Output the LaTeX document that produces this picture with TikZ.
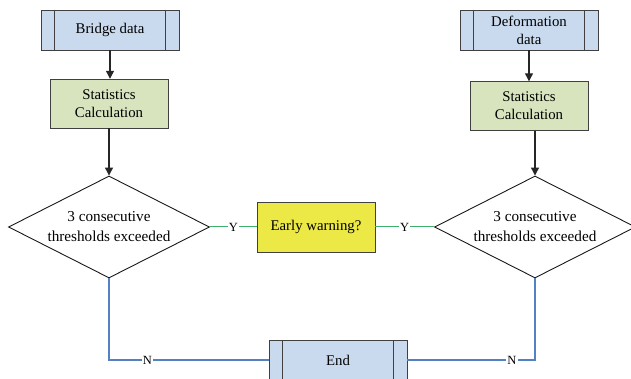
\documentclass[tikz,border=0pt]{standalone}
\usepackage{fontspec}
\setmainfont{Liberation Serif}
\usetikzlibrary{shapes.geometric}
\usetikzlibrary{arrows.meta}

\definecolor{datafill}{RGB}{201,217,238}
\definecolor{calcfill}{RGB}{216,228,190}
\definecolor{warnfill}{RGB}{236,232,70}
\definecolor{yesline}{RGB}{62,176,108}
\definecolor{noline}{RGB}{84,128,196}

\begin{document}
\begin{tikzpicture}[x=1pt, y=-1pt, font=\fontsize{14.8}{18}\selectfont,
    datablock/.style={draw=black!75, fill=datafill, minimum width=138pt, minimum height=40pt,
        inner sep=0pt, align=center,
        path picture={
            \draw [black!75] ([xshift=13.5pt]path picture bounding box.north west) -- ([xshift=13.5pt]path picture bounding box.south west);
            \draw [black!75] ([xshift=-13.5pt]path picture bounding box.north east) -- ([xshift=-13.5pt]path picture bounding box.south east);
        }},
    calcblock/.style={draw=black!75, fill=calcfill, minimum width=118pt, minimum height=49pt,
        inner sep=0pt, align=center},
    warnblock/.style={draw=black!75, fill=warnfill, minimum width=118pt, minimum height=50pt,
        inner sep=0pt},
    check/.style={diamond, draw=black!90, line width=0.9pt, aspect=2, inner sep=0pt,
        minimum width=201pt, minimum height=102pt, align=center,
        font=\fontsize{15.2}{20}\selectfont},
    flow/.style={draw=black!85, line width=1.2pt, -{Triangle[length=8pt, width=8pt]}},
    yes/.style={draw=yesline, line width=1pt},
    no/.style={draw=noline, line width=1.6pt},
    tag/.style={fill=white, inner sep=1pt, font=\fontsize{12.5}{14}\selectfont}]%
        \useasboundingbox (0, 0) rectangle (631, 379);
        % the two inputs and their statistics
        \node [datablock] (bridge) at (110, 30) {Bridge data};
        \node [calcblock] (calcL) at (109, 103.5) {Statistics\\Calculation};
        \node [datablock] (deform) at (529, 30) {Deformation\\data};
        \node [calcblock] (calcR) at (529, 106) {Statistics\\Calculation};
        % threshold checks
        \node [check] (checkL) at (109, 227) {3 consecutive\\thresholds exceeded};
        \node [check] (checkR) at (535, 227) {3 consecutive\\thresholds exceeded};
        \node [warnblock] (warn) at (316, 227) {Early warning?};
        \node [datablock] (finish) at (338, 360) {End};
        % arrows down
        \draw [flow] (bridge.south) -- (bridge.south |- calcL.north);
        \draw [flow] (calcL.south) -- (checkL.north);
        \draw [flow] (deform.south) -- (deform.south |- calcR.north);
        \draw [flow] (checkR.north |- calcR.south) -- (checkR.north);
        % yes / no branches
        \draw [yes] (checkL.east) -- node [tag] {Y} (warn.west);
        \draw [yes] (warn.east) -- node [tag] {Y} (checkR.west);
        \draw [no] (checkL.south) |- node [tag, pos=0.62] {N} (finish.west);
        \draw [no] (finish.east) -| node [tag, pos=0.41] {N} (checkR.south);
    \end{tikzpicture}
\end{document}
